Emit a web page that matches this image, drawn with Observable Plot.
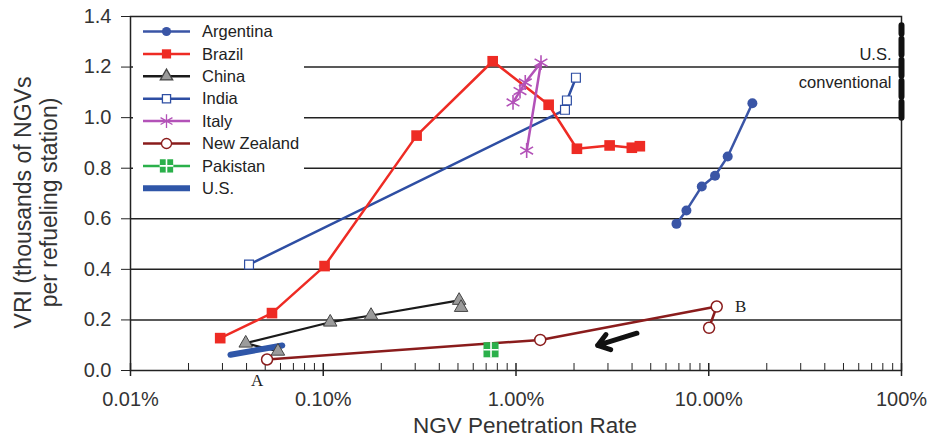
<!DOCTYPE html>
<html><head><meta charset="utf-8">
<script src="https://cdn.jsdelivr.net/npm/d3@7"></script>
<script src="https://cdn.jsdelivr.net/npm/@observablehq/plot@0.6"></script>
<style>
body{margin:0;background:#fff;}
#chart{position:relative;width:927px;height:442px;}
#legend{position:absolute;left:0;top:0;pointer-events:none;}
</style></head><body><div id="chart"></div>
<script>
// ---- data (x in %, y in thousands of NGVs per station) ----
const argentinaX = [6.8, 7.66, 9.2, 10.78, 12.54, 16.84];
const argentinaY = [0.58, 0.633, 0.728, 0.77, 0.846, 1.057];
const brazilX = [0.0292, 0.0542, 0.1016, 0.305, 0.757, 1.477, 2.07, 3.06, 3.99, 4.39];
const brazilY = [0.128, 0.227, 0.413, 0.929, 1.223, 1.051, 0.877, 0.890, 0.881, 0.887];
const chinaX = [0.0582, 0.0396, 0.1087, 0.177, 0.507, 0.519];
const chinaY = [0.076, 0.108, 0.191, 0.2175, 0.277, 0.249];
const indiaX = [0.0412, 1.795, 1.837, 2.046];
const indiaY = [0.419, 1.031, 1.068, 1.158];
const italyX = [0.965, 1.049, 1.117, 1.348, 1.136];
const italyY = [1.06, 1.105, 1.139, 1.218, 0.870];
const nzX = [0.0511, 1.336, 11.0, 10.04];
const nzY = [0.0435, 0.121, 0.253, 0.169];
const pakistanX = [0.742];
const pakistanY = [0.082];
const usX = [0.033, 0.0613];
const usY = [0.062, 0.099];
const usConvX = [100, 100];
const usConvY = [1.0, 1.365];
const usConvLabels = ["U.S.", "conventional"];
const usConvLabelY = [1.25, 1.14];
const arrowFrom = [4.24, 0.1475];
const arrowTo = [2.65, 0.099];
const xMajor = [0.01, 0.1, 1, 10, 100];
const xTickLabels = ["0.01%", "0.10%", "1.00%", "10.00%", "100%"];
const yTicks = [0, 0.2, 0.4, 0.6, 0.8, 1.0, 1.2, 1.4];
const gridY = [0.2, 0.4, 0.6, 0.8, 1.0, 1.2];
const legendNames = ["Argentina", "Brazil", "China", "India", "Italy", "New Zealand", "Pakistan", "U.S."];

const xMinor = [];
for (let e = -2; e < 2; e++) for (let m = 2; m <= 9; m++) xMinor.push(m * Math.pow(10, e));
const xLabelMap = new Map(xMajor.map((d, i) => [d, xTickLabels[i]]));

const zip = (xs, ys) => xs.map((x, i) => ({x, y: ys[i]}));
const C = {
  arg: "#3a55a6", bra: "#ee2b24", chiLine: "#1a1a1a", chiMark: "#9b9b9b",
  ind: "#2e4ea3", ita: "#b352b8", nz: "#8a1c1c", pak: "#2ab04a", us: "#2f56a8"
};

const arg = zip(argentinaX, argentinaY), bra = zip(brazilX, brazilY), chi = zip(chinaX, chinaY),
      ind = zip(indiaX, indiaY), ita = zip(italyX, italyY), nz = zip(nzX, nzY),
      pak = zip(pakistanX, pakistanY), us = zip(usX, usY), usc = zip(usConvX, usConvY);

const chart = Plot.plot({
  width: 927, height: 442,
  marginTop: 16, marginRight: 26, marginBottom: 72, marginLeft: 130,
  x: {type: "log", domain: [0.01, 100]},
  y: {domain: [0, 1.4]},
  style: {fontFamily: "'Liberation Sans', Arial, sans-serif", background: "#fff", color: "#333"},
  marks: [
    Plot.ruleY(gridY, {stroke: "#222", strokeWidth: 1.5}),
    Plot.frame({stroke: "#222", strokeWidth: 1.5}),
    Plot.axisY({ticks: yTicks, tickFormat: d => d.toFixed(1), tickSize: 9, tickPadding: 10, fontSize: 20, label: null, stroke: "#222"}),
    Plot.axisX({ticks: xMajor, tickSize: 13, dy: -7, fill: "none", label: null, stroke: "#222", strokeWidth: 1.5}),
    Plot.axisX({ticks: xMinor, tickSize: 7, dy: -7, fill: "none", label: null, stroke: "#222"}),
    Plot.axisX({ticks: xMajor, tickSize: 0, tickPadding: 21, tickFormat: d => xLabelMap.get(d), fontSize: 20, label: null}),
    Plot.text(["NGV Penetration Rate"], {frameAnchor: "bottom", dy: 62, dx: 9, fontSize: 22.5, fill: "#333"}),
    Plot.text(["VRI (thousands of NGVs\nper refueling station)"], {frameAnchor: "left", textAnchor: "middle", dx: -95, dy: 9, rotate: -90, fontSize: 23, lineHeight: 1.13, fill: "#333"}),

    // U.S. conventional
    Plot.line(usc, {x: "x", y: "y", stroke: "#111", strokeWidth: 6, strokeDasharray: "16,5"}),
    Plot.text(usConvLabels, {x: () => 100, y: (d, i) => usConvLabelY[i], text: d => d, textAnchor: "end", dx: -10, fontSize: 16.5, fill: "#222"}),

    // series lines
    Plot.line(ind, {x: "x", y: "y", stroke: C.ind, strokeWidth: 2.5}),
    Plot.line(bra, {x: "x", y: "y", stroke: C.bra, strokeWidth: 2.5}),
    Plot.line(arg, {x: "x", y: "y", stroke: C.arg, strokeWidth: 2.5}),
    Plot.line(chi, {x: "x", y: "y", stroke: C.chiLine, strokeWidth: 2.2}),
    Plot.line(ita, {x: "x", y: "y", stroke: C.ita, strokeWidth: 2.5}),
    Plot.line(nz, {x: "x", y: "y", stroke: C.nz, strokeWidth: 2.5}),
    Plot.line(us, {x: "x", y: "y", stroke: C.us, strokeWidth: 6}),

    // markers
    Plot.dot(arg, {x: "x", y: "y", r: 5, fill: C.arg, symbol: "circle"}),
    Plot.dot(bra, {x: "x", y: "y", r: 6, fill: C.bra, symbol: "square"}),
    Plot.dot(chi, {x: "x", y: "y", r: 5, fill: C.chiMark, stroke: "#444", strokeWidth: 1, symbol: "triangle"}),
    Plot.dot(ind, {x: "x", y: "y", r: 5, fill: "#fff", stroke: C.ind, strokeWidth: 1.2, symbol: "square"}),
    Plot.dot(ita, {x: "x", y: "y", r: 7, stroke: C.ita, strokeWidth: 1.6, symbol: "asterisk"}),
    Plot.dot(nz, {x: "x", y: "y", r: 5.5, fill: "#fff", stroke: C.nz, strokeWidth: 1.5, symbol: "circle"}),
    Plot.dot(pak, {x: "x", y: "y", r: 8.5, fill: C.pak, symbol: "square"}),
    Plot.dot(pak, {x: "x", y: "y", r: 5, stroke: "#fff", strokeWidth: 1.6, symbol: "plus"}),

    // arrow and annotations
    Plot.arrow([{x1: arrowFrom[0], y1: arrowFrom[1], x2: arrowTo[0], y2: arrowTo[1]}],
      {x1: "x1", y1: "y1", x2: "x2", y2: "y2", stroke: "#111", strokeWidth: 5, headLength: 9, headAngle: 70}),
    Plot.text(["A"], {x: () => nzX[0], y: () => nzY[0], dx: -10, dy: 21, fontSize: 17, fontFamily: "'Liberation Serif', serif", fill: "#222"}),
    Plot.text(["B"], {x: () => nzX[2], y: () => nzY[2], dx: 24, dy: 0, fontSize: 17, fontFamily: "'Liberation Serif', serif", fill: "#222"})
  ]
});
const host = document.getElementById("chart");
host.appendChild(chart);

// ---- legend (inside plot, upper-left, white box) as an overlay ----
const lsvg = d3.select(host).append("svg").attr("id", "legend")
  .attr("width", 927).attr("height", 442)
  .style("font-family", "'Liberation Sans', Arial, sans-serif");
lsvg.append("rect").attr("x", 133).attr("y", 18).attr("width", 171).attr("height", 181)
  .style("fill", "#ffffff");
const legendSpec = [
  {c: C.arg, sym: d3.symbolCircle, r: 4.6, fill: C.arg, stroke: "none"},
  {c: C.bra, sym: d3.symbolSquare, r: 5.2, fill: C.bra, stroke: "none"},
  {c: C.chiLine, sym: d3.symbolTriangle, r: 4.6, fill: C.chiMark, stroke: "#444"},
  {c: C.ind, sym: d3.symbolSquare, r: 4.6, fill: "#fff", stroke: C.ind},
  {c: C.ita, sym: d3.symbolAsterisk, r: 6.5, fill: "none", stroke: C.ita},
  {c: C.nz, sym: d3.symbolCircle, r: 5, fill: "#fff", stroke: C.nz},
  {c: C.pak, sym: d3.symbolSquare, r: 7.5, fill: C.pak, stroke: "none", plus: true},
  {c: C.us, sym: null, thick: true}
];
legendNames.forEach((name, i) => {
  const s = legendSpec[i];
  const cy = 31.5 + i * 22.4;
  lsvg.append("line").attr("x1", 143).attr("x2", 190).attr("y1", cy).attr("y2", cy)
    .attr("stroke", s.c).attr("stroke-width", s.thick ? 6 : 2.5);
  if (s.sym) {
    lsvg.append("path").attr("transform", `translate(166.5,${cy})`)
      .attr("d", d3.symbol(s.sym, Math.PI * s.r * s.r)())
      .style("fill", s.fill).style("stroke", s.stroke).attr("stroke-width", 1.3);
  }
  if (s.plus) {
    lsvg.append("path").attr("transform", `translate(166.5,${cy})`)
      .attr("d", d3.symbol(d3.symbolPlus, Math.PI * 4.5 * 4.5)())
      .style("fill", "none").style("stroke", "#fff").attr("stroke-width", 1.6);
  }
  lsvg.append("text").attr("x", 202).attr("y", cy).attr("dy", "0.35em")
    .attr("text-anchor", "start")
    .attr("font-size", 16.5).style("fill", "#222").text(name);
});
</script>
</body></html>
